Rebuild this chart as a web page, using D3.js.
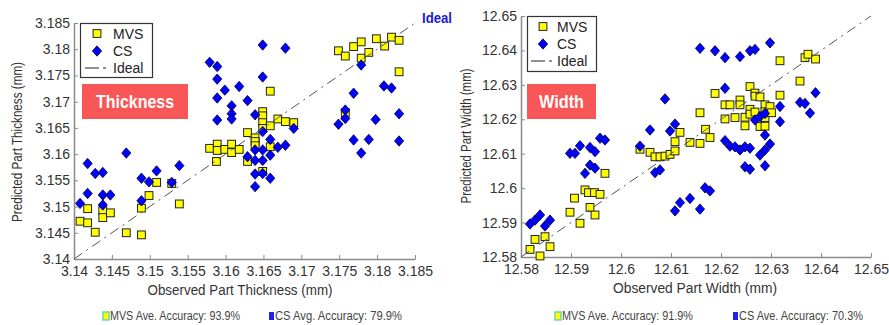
<!DOCTYPE html>
<html><head><meta charset="utf-8">
<script src="https://cdn.jsdelivr.net/npm/d3@7"></script>
<style>body{margin:0;background:#fff}svg{display:block}</style>
</head><body><svg id="c" width="889" height="325"></svg>
<script>
// ---------- tick labels ----------
const thickTicks = [3.14,3.145,3.15,3.155,3.16,3.165,3.17,3.175,3.18,3.185];
const thickTickLabels = ["3.14","3.145","3.15","3.155","3.16","3.165","3.17","3.175","3.18","3.185"];
const widthTicks = [12.58,12.59,12.6,12.61,12.62,12.63,12.64,12.65];
const widthTickLabels = ["12.58","12.59","12.6","12.61","12.62","12.63","12.64","12.65"];

// ---------- Thickness: MVS ----------
const thickMvsObs = [3.1408,3.1418,3.1418,3.1428,3.1438,3.1438,3.1448,3.1469,3.1489,3.1489,3.1499,3.1509,3.1529,3.1539,3.1588,
 3.1579,3.1589,3.1589,3.1599,3.1608,3.1608,3.1618,3.1629,3.1629,3.1639,3.1639,3.1639,3.1649,3.1649,3.1649,3.1649,3.1649,3.1659,3.1659,3.1659,3.1669,3.1679,3.1690,
 3.1749,3.1758,3.1769,3.1779,3.1779,3.1789,3.1799,3.1810,3.1819,3.1829,3.1829,3.1758];
const thickMvsPred = [3.1472,3.1469,3.1496,3.1451,3.1492,3.1479,3.1488,3.1450,3.1446,3.1497,3.1521,3.1546,3.1544,3.1505,3.1586,
 3.1611,3.1619,3.1607,3.1609,3.1619,3.1603,3.1609,3.1641,3.1586,3.1631,3.1624,3.1616,3.1681,3.1673,3.1660,3.1649,3.1567,3.1654,3.1614,3.1720,3.1667,3.1662,3.1660,
 3.1797,3.1787,3.1805,3.1814,3.1783,3.1794,3.1820,3.1806,3.1823,3.1817,3.1757,3.1679];
// ---------- Thickness: CS ----------
const thickCsObs = [3.1408,3.1418,3.1418,3.1428,3.1438,3.1438,3.1438,3.1448,3.1469,3.1489,3.1489,3.1499,3.1509,3.1529,3.1539,
 3.1649,3.1679,3.1579,3.1589,3.1589,3.1649,3.1618,3.1599,3.1589,3.1629,3.1608,3.1608,3.1608,3.1589,3.1639,3.1690,3.1649,3.1659,3.1669,3.1679,
 3.1639,3.1649,3.1629,3.1639,3.1649,3.1659,3.1639,3.1649,3.1659,3.1639,
 3.1779,3.1809,3.1819,3.1769,3.1758,3.1758,3.1749,3.1798,3.1829,3.1769,3.1789,3.1779,3.1829];
const thickCsPred = [3.1506,3.1582,3.1525,3.1563,3.1565,3.1522,3.1503,3.1522,3.1602,3.1554,3.1511,3.1547,3.1568,3.1546,3.1578,
 3.1808,3.1802,3.1775,3.1767,3.1743,3.1747,3.1729,3.1722,3.1707,3.1702,3.1692,3.1677,3.1667,3.1665,3.1675,3.1649,3.1643,3.1628,3.1613,3.1617,
 3.1608,3.1608,3.1595,3.1588,3.1588,3.1598,3.1562,3.1563,3.1554,3.1538,
 3.1770,3.1730,3.1726,3.1716,3.1684,3.1668,3.1657,3.1666,3.1677,3.1627,3.1628,3.1602,3.1625];

// ---------- Width: MVS ----------
const widthMvsObs = [12.5818,12.5828,12.5838,12.5848,12.5858,12.5898,12.5907,12.5918,12.5928,12.5935,12.5938,12.5947,12.5948,12.5958,12.5968,
 12.6038,12.6058,12.6068,12.6078,12.6088,12.6098,12.6108,12.6108,12.6118,12.6138,12.6158,12.6158,12.6169,12.6178,12.6188,
 12.6208,12.6208,12.6218,12.6228,12.6238,12.6238,12.6248,12.6248,12.6258,12.6258,12.6258,12.6268,12.6268,12.6268,12.6278,12.6278,
 12.6288,12.6288,12.6288,12.6288,12.6298,12.6301,12.6318,12.6318,12.6358,12.6368,12.6374,12.6389];
const widthMvsPred = [12.5822,12.5851,12.5803,12.5859,12.5830,12.5930,12.5971,12.5898,12.5995,12.5987,12.5944,12.5987,12.5922,12.5982,12.6043,
 12.6113,12.6104,12.6091,12.6091,12.6093,12.6098,12.6108,12.6135,12.6162,12.6133,12.6130,12.6219,12.6171,12.6147,12.6275,
 12.6242,12.6201,12.6242,12.6205,12.6256,12.6242,12.6206,12.6181,12.6295,12.6229,12.6215,12.6276,12.6267,12.6221,12.6265,12.6179,
 12.6242,12.6222,12.6205,12.6180,12.6237,12.6219,12.6370,12.6270,12.6311,12.6379,12.6389,12.6375];
// ---------- Width: CS ----------
const widthCsObs = [12.5818,12.5828,12.5838,12.5848,12.5858,12.5898,12.5908,12.5918,12.5938,12.5948,12.5958,12.5968,12.5928,12.5938,12.5948,
 12.6038,12.6058,12.6088,12.6098,12.6108,12.6068,12.6078,
 12.6158,12.6188,12.6208,12.6238,12.6258,12.6268,12.6298,12.6208,
 12.6208,12.6218,12.6228,12.6238,12.6248,12.6258,12.6248,12.6258,12.6268,12.6278,12.6288,12.6278,12.6288,12.6298,12.6288,12.6288,
 12.6318,12.6318,12.6358,12.6368,12.6378,12.6389,
 12.6168,12.6178,12.6108,12.6118,12.6138,12.6158];
const widthCsPred = [12.5896,12.5907,12.5922,12.5890,12.5907,12.6101,12.6101,12.6123,12.6118,12.6106,12.6145,12.6140,12.6043,12.6067,12.6058,
 12.6122,12.6169,12.6259,12.6166,12.6186,12.6045,12.6053,
 12.6406,12.6399,12.6379,12.6382,12.6399,12.6403,12.6422,12.6290,
 12.6138,12.6122,12.6120,12.6111,12.6120,12.6116,12.6062,12.6055,12.6198,12.6208,12.6217,12.6096,12.6111,12.6128,12.6154,12.6065,
 12.6237,12.6193,12.6249,12.6246,12.6218,12.6277,
 12.6001,12.5992,12.5934,12.5958,12.5970,12.5939];

const seriesNames = ["MVS","CS","Ideal"];
const accuracyLeft = ["MVS Ave. Accuracy: 93.9%","CS Avg. Accuracy: 79.9%"];
const accuracyRight = ["MVS Ave. Accuracy: 91.9%","CS Ave. Accuracy: 70.3%"];

const svg = d3.select("#c");
const FONT = "'Liberation Sans', Arial, sans-serif";
const NARROW = "'Liberation Sans Narrow', 'Liberation Sans', Arial, sans-serif";
const YELLOW = "#ffff00", BLUE = "#0000ff";
const diamond = "M0,-5.2L4.6,0L0,5.2L-4.6,0Z";

function zip(a,b){ return a.map((v,i)=>[v,b[i]]); }

function panel(cfg){
  const x = d3.scaleLinear().domain(cfg.domain).range([cfg.x0,cfg.x1]);
  const y = d3.scaleLinear().domain(cfg.domain).range([cfg.y0,cfg.y1]);

  function styleAxis(g){
    g.attr("font-family",FONT).attr("font-size",14);
    g.select(".domain").attr("stroke","#8a8a8a").attr("stroke-width",1.5);
    g.selectAll(".tick line").attr("stroke","#8a8a8a").attr("stroke-width",1);
    g.selectAll(".tick text").attr("fill","#333");
  }
  svg.append("g").attr("transform",`translate(0,${cfg.y0})`)
    .call(d3.axisBottom(x).tickValues(cfg.ticks).tickFormat((d,i)=>cfg.labels[i])
      .tickSizeInner(-4).tickSizeOuter(0).tickPadding(cfg.xpad))
    .call(styleAxis);
  svg.append("g").attr("transform",`translate(${cfg.x0},0)`)
    .call(d3.axisLeft(y).tickValues(cfg.ticks).tickFormat((d,i)=>cfg.labels[i])
      .tickSizeInner(-4).tickSizeOuter(0).tickPadding(4))
    .call(styleAxis);

  // axis titles
  svg.append("text").attr("x",cfg.xlab[0]).attr("y",cfg.xlab[1]).attr("text-anchor","middle")
    .attr("font-family",FONT).attr("font-size",14).attr("fill","#333")
    .attr("textLength",cfg.xlab[2]).attr("lengthAdjust","spacingAndGlyphs").text(cfg.xTitle);
  svg.append("text").attr("transform",`translate(${cfg.ylab[0]},${cfg.ylab[1]}) rotate(-90)`).attr("text-anchor","middle")
    .attr("font-family",FONT).attr("font-size",14).attr("fill","#333")
    .attr("textLength",cfg.ylab[2]).attr("lengthAdjust","spacingAndGlyphs").text(cfg.yTitle);

  // MVS squares
  const s = 7.8;
  svg.append("g").selectAll("rect").data(zip(cfg.mvsX,cfg.mvsY)).join("rect")
    .attr("x",d=>x(d[0])-s/2).attr("y",d=>y(d[1])-s/2).attr("width",s).attr("height",s)
    .attr("fill",YELLOW).attr("stroke","#222").attr("stroke-width",1);
  // CS diamonds
  svg.append("g").selectAll("path").data(zip(cfg.csX,cfg.csY)).join("path")
    .attr("d",diamond).attr("transform",d=>`translate(${x(d[0])},${y(d[1])})`)
    .attr("fill",BLUE).attr("stroke","#000040").attr("stroke-width",0.8);
  // Ideal line
  svg.append("path").datum([cfg.domain[0],cfg.domain[1]])
    .attr("d",d3.line().x(d=>x(d)).y(d=>y(d)))
    .attr("fill","none").attr("stroke","#555").attr("stroke-width",1)
    .attr("stroke-dasharray","10,5,2,5");

  // legend
  const L = cfg.leg;
  svg.append("rect").attr("x",L.x+0.5).attr("y",L.y+0.5).attr("width",L.w).attr("height",L.h)
    .attr("fill","#fff").attr("stroke","#333").attr("stroke-width",1.2);
  const rows = [L.y+10.5, L.y+28, L.y+45];
  svg.append("rect").attr("x",L.mx-s/2).attr("y",rows[0]-s/2).attr("width",s).attr("height",s)
    .attr("fill",YELLOW).attr("stroke","#222");
  svg.append("path").attr("d",diamond).attr("transform",`translate(${L.mx},${rows[1]})`)
    .attr("fill",BLUE).attr("stroke","#000040").attr("stroke-width",0.8);
  svg.append("line").attr("x1",L.mx-12).attr("x2",L.mx+13).attr("y1",rows[2]).attr("y2",rows[2])
    .attr("stroke","#222").attr("stroke-width",1).attr("stroke-dasharray","14,4,3,4");
  seriesNames.forEach((n,i)=>{
    svg.append("text").attr("x",L.tx).attr("y",rows[i]+5).attr("font-family",FONT).attr("font-size",14)
      .attr("fill","#222").text(n);
  });

  // red label
  svg.append("rect").attr("x",cfg.tag.x).attr("y",84).attr("width",cfg.tag.w).attr("height",35).attr("fill","#f95757");
  svg.append("text").attr("x",cfg.tag.x+cfg.tag.w/2).attr("y",108).attr("text-anchor","middle")
    .attr("font-family",FONT).attr("font-weight","bold").attr("font-size",19).attr("fill","#fff")
    .attr("textLength",cfg.tag.tl).attr("lengthAdjust","spacingAndGlyphs").text(cfg.tag.text);

  // accuracy notes
  const A = cfg.acc;
  svg.append("rect").attr("x",A.m1).attr("y",312).attr("width",6).attr("height",8)
    .attr("fill",YELLOW).attr("stroke","#6fd6a0").attr("stroke-width",1.5);
  svg.append("text").attr("x",A.m1+7).attr("y",320).attr("font-family",NARROW).attr("font-size",12)
    .attr("fill","#444").attr("textLength",A.w1).attr("lengthAdjust","spacingAndGlyphs").text(A.t[0]);
  svg.append("rect").attr("x",A.m2).attr("y",312).attr("width",5).attr("height",8).attr("fill","#2222ee");
  svg.append("text").attr("x",A.m2+6).attr("y",320).attr("font-family",NARROW).attr("font-size",12)
    .attr("fill","#444").attr("textLength",A.w2).attr("lengthAdjust","spacingAndGlyphs").text(A.t[1]);
}

panel({
  domain:[3.14,3.185], x0:74, x1:415, y0:259, y1:23, ticks:thickTicks, labels:thickTickLabels, xpad:7,
  xTitle:"Observed Part Thickness (mm)", yTitle:"Predicted Part Thickness (mm)",
  xlab:[240,295,185], ylab:[22,142,160],
  mvsX:thickMvsObs, mvsY:thickMvsPred, csX:thickCsObs, csY:thickCsPred,
  leg:{x:80,y:23,w:72,h:54,mx:97,tx:113},
  tag:{x:82,w:106,text:"Thickness",tl:78},
  acc:{m1:103,w1:130,m2:269,w2:127,t:accuracyLeft}
});
panel({
  domain:[12.58,12.65], x0:521, x1:871, y0:257, y1:16, ticks:widthTicks, labels:widthTickLabels, xpad:7,
  xTitle:"Observed Part Width (mm)", yTitle:"Predicted Part Width (mm)",
  xlab:[695,293,164], ylab:[471,136,135],
  mvsX:widthMvsObs, mvsY:widthMvsPred, csX:widthCsObs, csY:widthCsPred,
  leg:{x:527,y:16,w:69,h:55,mx:543,tx:557},
  tag:{x:527,w:69,text:"Width",tl:45},
  acc:{m1:555,w1:131,m2:733,w2:124,t:accuracyRight}
});

// "Ideal" annotation
svg.append("text").attr("x",422).attr("y",23).attr("font-family",FONT).attr("font-weight","bold")
  .attr("font-size",15).attr("fill","#1a1ad0").attr("textLength",30).attr("lengthAdjust","spacingAndGlyphs").text("Ideal");
</script>
</body></html>
